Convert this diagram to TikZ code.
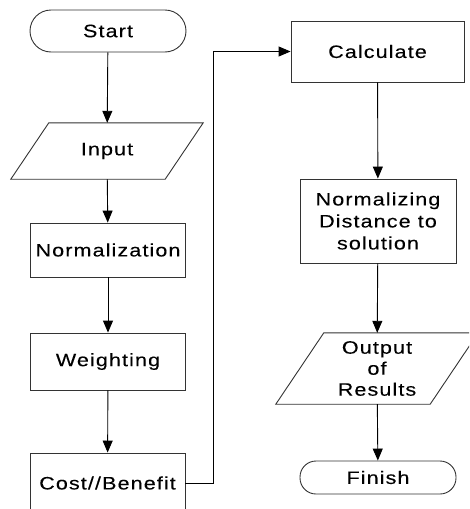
\documentclass[tikz,border=0pt]{standalone}
\usepackage{fontspec}
\setmainfont{Liberation Sans}[FakeStretch=1.2,LetterSpace=6,FakeBold=0.12]
\usepackage{tikz}
\usetikzlibrary{shapes.geometric, arrows.meta}
\tikzstyle{startstop} = [rectangle, draw=black!80, line width=0.9pt, minimum width=156pt, font=\fontsize{18}{22}\selectfont]
\tikzstyle{io} = [rectangle, minimum width=154pt, align=center, font=\fontsize{18}{21}\selectfont]
\tikzstyle{process} = [rectangle, draw=black!80, line width=0.9pt, minimum width=155pt, align=center, font=\fontsize{18}{22}\selectfont]
\tikzstyle{arrow} = [line width=0.9pt, -{Triangle[width=10pt,length=12pt]}]
\tikzstyle{line} = [line width=0.9pt, draw=black!80]

\begin{document}
\begin{tikzpicture}[x=1pt, y=-1pt]
\useasboundingbox (0,0) rectangle (469,509);
\clip (0,0) rectangle (469,509);

\node (start) [startstop, minimum height=42pt, rounded corners=21pt] at (108,31) {Start};
\node (in) [io, minimum height=56pt] at (107,151) {Input};
\node (norm) [process, minimum height=54pt] at (108,250) {Normalization};
\node (weight) [process, minimum height=57pt] at (108,361.5) {Weighting};
\node (cost) [process, minimum height=60pt] at (107.5,483) {Cost//Benefit};
\node (calc) [process, minimum width=173pt, minimum height=61pt] at (377.5,51.5) {Calculate};
\node (dist) [process, minimum width=156pt, minimum height=84pt] at (378,221) {Normalizing\\Distance to\\solution};
\node (out) [io, minimum height=71pt] at (377,368.5) {Output\\of\\Results};
\node (stop) [startstop, minimum height=33pt, rounded corners=16pt] at (378,477.5) {Finish};

% parallelograms
\draw [line] ([xshift=19pt]in.north west) -- ([xshift=19pt]in.north east)
  -- ([xshift=-19pt]in.south east) -- ([xshift=-19pt]in.south west) -- cycle;
\draw [line] ([xshift=24pt]out.north west) -- ([xshift=24pt]out.north east)
  -- ([xshift=-24pt]out.south east) -- ([xshift=-24pt]out.south west) -- cycle;

\draw [arrow] (start) -- (in);
\draw [arrow] (in) -- (norm);
\draw [arrow] (norm) -- (weight);
\draw [arrow] (weight) -- (cost);
\draw [arrow] (cost.east) -- ++(28,0) |- (calc.west);
\draw [arrow] (calc) -- (dist);
\draw [arrow] (dist) -- (out);
\draw [arrow] (out) -- (stop);

\end{tikzpicture}
\end{document}
